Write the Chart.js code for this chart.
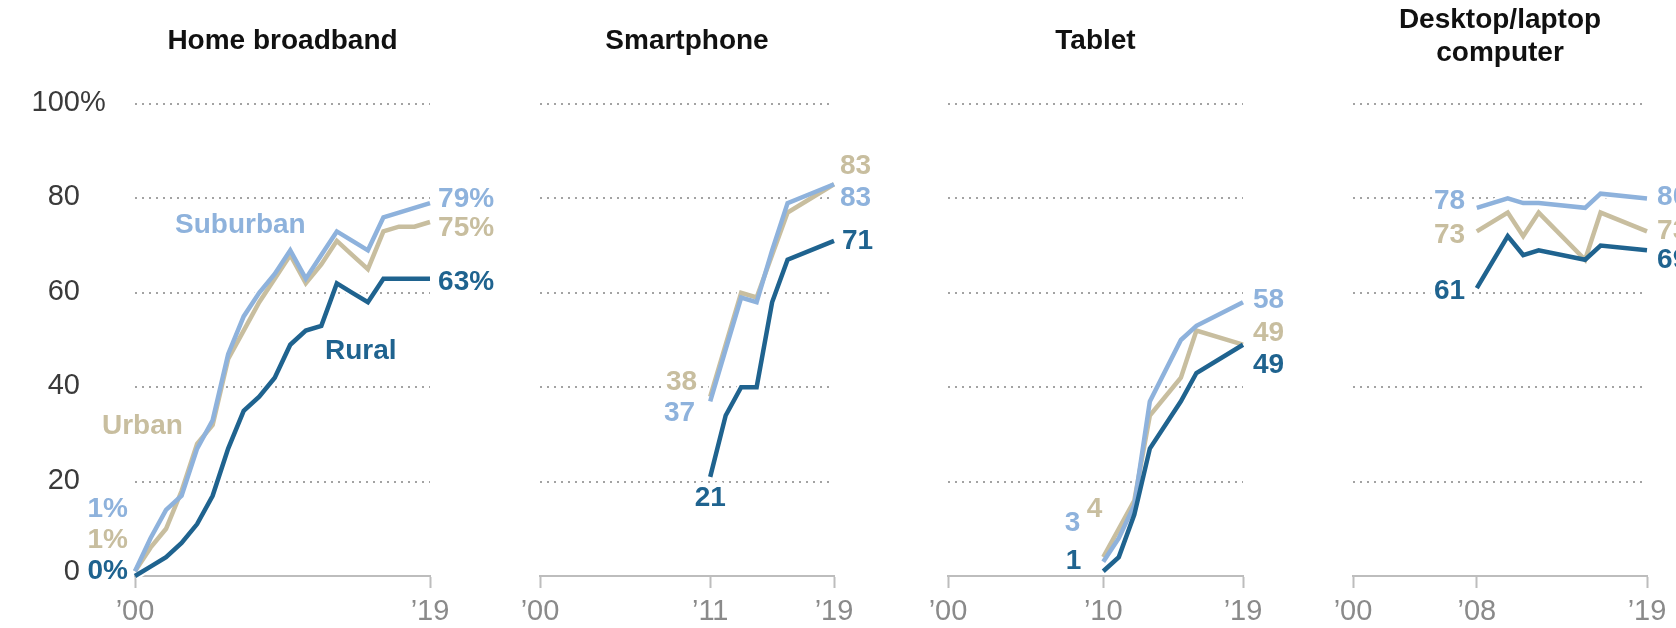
<!DOCTYPE html>
<html>
<head>
<meta charset="utf-8">
<script src="https://cdn.jsdelivr.net/npm/chart.js@4.4.1/dist/chart.umd.min.js"></script>
<style>
  html, body { margin: 0; padding: 0; background: #fff; }
  body { width: 1676px; height: 628px; overflow: hidden; position: relative; }
  canvas { position: absolute; top: 0; }
</style>
</head>
<body>
<canvas id="c-broadband" width="560" height="628"></canvas>
<canvas id="c-phone" width="560" height="628"></canvas>
<canvas id="c-tablet" width="560" height="628"></canvas>
<canvas id="c-desktop" width="560" height="628"></canvas>
<script>
// Home broadband
const broadbandYears = [2000, 2001, 2002, 2003, 2004, 2005, 2006, 2007, 2008, 2009, 2010, 2011, 2012, 2013, 2014, 2015, 2016, 2017, 2018, 2019];
const broadbandSuburban = [1, 8, 14, 17, 27, 33, 47, 55, 60, 64, 69, 63, 68, 73, 71, 69, 76, 77, 78, 79];
const broadbandUrban = [1, 6, 10, 18, 28, 32, 46, 52, 58, 63, 68, 62, 66, 71, 68, 65, 73, 74, 74, 75];
const broadbandRural = [0, 2, 4, 7, 11, 17, 27, 35, 38, 42, 49, 52, 53, 62, 60, 58, 63, 63, 63, 63];

// Smartphone
const phoneYears = [2011, 2012, 2013, 2014, 2015, 2016, 2019];
const phoneSuburban = [37, 48, 59, 58, 69, 79, 83];
const phoneUrban = [38, 49, 60, 59, 68, 77, 83];
const phoneRural = [21, 34, 40, 40, 58, 67, 71];

// Tablet
const tabletYears = [2010, 2011, 2012, 2013, 2015, 2016, 2019];
const tabletSuburban = [3, 8, 15, 37, 50, 53, 58];
const tabletUrban = [4, 10, 16, 34, 42, 52, 49];
const tabletRural = [1, 4, 13, 27, 37, 43, 49];

// Desktop/laptop computer
const desktopYears = [2008, 2010, 2011, 2012, 2015, 2016, 2019];
const desktopSuburban = [78, 80, 79, 79, 78, 81, 80];
const desktopUrban = [73, 77, 72, 77, 67, 77, 73];
const desktopRural = [61, 72, 68, 69, 67, 70, 69];

const broadbandTicks = [2000, 2019];
const phoneTicks = [2000, 2011, 2019];
const tabletTicks = [2000, 2010, 2019];
const desktopTicks = [2000, 2008, 2019];
const yTicks = [0, 20, 40, 60, 80, 100];

const COLORS = { suburban: '#8eb2dc', urban: '#c8be9f', rural: '#1f638f' };
const FAMILY = "'Liberation Sans', Arial, sans-serif";
const BOLD = "bold 28px " + FAMILY;

Chart.defaults.font.family = FAMILY;

const panels = [
    {
        id: 'c-broadband', plotLeft: 135, plotRight: 430, title: ['Home broadband'], yLabels: true,
        years: broadbandYears, suburban: broadbandSuburban, urban: broadbandUrban, rural: broadbandRural,
        ticks: broadbandTicks,
        labels: [
            { text: '79%', color: COLORS.suburban, x: 2019.52, y: 79.9, align: 'left' },
            { text: '75%', color: COLORS.urban, x: 2019.52, y: 73.7, align: 'left' },
            { text: '63%', color: COLORS.rural, x: 2019.52, y: 62.3, align: 'left' },
            { text: '1%', color: COLORS.suburban, x: 1999.55, y: 14.2, align: 'right' },
            { text: '1%', color: COLORS.urban, x: 1999.55, y: 7.6, align: 'right' },
            { text: '0%', color: COLORS.rural, x: 1999.55, y: 1.1, align: 'right' },
            { text: 'Suburban', color: COLORS.suburban, x: 2002.58, y: 74.4, align: 'left' },
            { text: 'Urban', color: COLORS.urban, x: 1997.87, y: 31.8, align: 'left' },
            { text: 'Rural', color: COLORS.rural, x: 2012.24, y: 47.7, align: 'left' }
        ]
    },
    {
        id: 'c-phone', plotLeft: 540, plotRight: 834, title: ['Smartphone'],
        years: phoneYears, suburban: phoneSuburban, urban: phoneUrban, rural: phoneRural,
        ticks: phoneTicks,
        labels: [
            { text: '83', color: COLORS.urban, x: 2019.39, y: 86.7, align: 'left' },
            { text: '83', color: COLORS.suburban, x: 2019.39, y: 80.1, align: 'left' },
            { text: '71', color: COLORS.rural, x: 2019.52, y: 71.0, align: 'left' },
            { text: '38', color: COLORS.urban, x: 2010.15, y: 41.1, align: 'right' },
            { text: '37', color: COLORS.suburban, x: 2010.02, y: 34.5, align: 'right' },
            { text: '21', color: COLORS.rural, x: 2011.0, y: 16.5, align: 'center' }
        ]
    },
    {
        id: 'c-tablet', plotLeft: 948, plotRight: 1243, title: ['Tablet'],
        years: tabletYears, suburban: tabletSuburban, urban: tabletUrban, rural: tabletRural,
        ticks: tabletTicks,
        labels: [
            { text: '58', color: COLORS.suburban, x: 2019.64, y: 58.5, align: 'left' },
            { text: '49', color: COLORS.urban, x: 2019.64, y: 51.5, align: 'left' },
            { text: '49', color: COLORS.rural, x: 2019.64, y: 44.7, align: 'left' },
            { text: '3', color: COLORS.suburban, x: 2008.02, y: 11.2, align: 'center' },
            { text: '4', color: COLORS.urban, x: 2009.44, y: 14.2, align: 'center' },
            { text: '1', color: COLORS.rural, x: 2008.09, y: 3.2, align: 'center' }
        ]
    },
    {
        id: 'c-desktop', plotLeft: 1353, plotRight: 1647, title: ['Desktop/laptop', 'computer'],
        years: desktopYears, suburban: desktopSuburban, urban: desktopUrban, rural: desktopRural,
        ticks: desktopTicks,
        labels: [
            { text: '78', color: COLORS.suburban, x: 2007.24, y: 79.4, align: 'right' },
            { text: '73', color: COLORS.urban, x: 2007.24, y: 72.2, align: 'right' },
            { text: '61', color: COLORS.rural, x: 2007.24, y: 60.4, align: 'right' },
            { text: '80', color: COLORS.suburban, x: 2019.65, y: 80.3, align: 'left' },
            { text: '73', color: COLORS.urban, x: 2019.65, y: 73.1, align: 'left' },
            { text: '69', color: COLORS.rural, x: 2019.65, y: 66.9, align: 'left' }
        ]
    }
];

function drawLabel(chart, l, halo) {
    const ctx = chart.ctx;
    const px = chart.scales.x.getPixelForValue(l.x);
    const py = chart.scales.y.getPixelForValue(l.y);
    ctx.save();
    ctx.font = BOLD;
    ctx.textAlign = l.align;
    ctx.textBaseline = 'middle';
    if (halo) {
        ctx.strokeStyle = '#fff';
        ctx.lineWidth = 10;
        ctx.lineJoin = 'round';
        ctx.strokeText(l.text, px, py);
    } else {
        ctx.fillStyle = l.color;
        ctx.fillText(l.text, px, py);
    }
    ctx.restore();
}

function makeDecor(panel) {
    return {
        id: 'decor',
        beforeDatasetsDraw(chart) {
            const ctx = chart.ctx;
            const area = chart.chartArea;
            ctx.save();
            // panel title
            ctx.font = BOLD;
            ctx.fillStyle = '#111';
            ctx.textAlign = 'center';
            ctx.textBaseline = 'middle';
            const cx = (area.left + area.right) / 2;
            const rows = panel.title.length === 1 ? [41] : [20, 53];
            panel.title.forEach((t, i) => ctx.fillText(t, cx, rows[i]));

            // y axis labels, with hanging percent sign on the top one
            if (panel.yLabels) {
                ctx.font = '29px ' + FAMILY;
                ctx.fillStyle = '#3a3a3a';
                const rx = area.left - 55;
                yTicks.forEach(v => {
                    const y = chart.scales.y.getPixelForValue(v) - (v === 0 ? 4 : 1);
                    ctx.textAlign = 'right';
                    ctx.fillText(String(v), rx, y);
                    if (v === 100) {
                        ctx.textAlign = 'left';
                        ctx.fillText('%', rx, y);
                    }
                });
            }
            ctx.restore();
            panel.labels.forEach(l => drawLabel(chart, l, true));
        },
        afterDatasetsDraw(chart) {
            panel.labels.forEach(l => drawLabel(chart, l, false));
        }
    };
}

function series(years, values) {
    return years.map((yr, i) => ({ x: yr, y: values[i] }));
}

panels.forEach(panel => {
    const canvas = document.getElementById(panel.id);
    const left = panel.plotLeft - 135;
    canvas.style.left = left + 'px';
    const plotWidth = panel.plotRight - panel.plotLeft;

    const line = (values, color, width, order) => ({
        data: series(panel.years, values),
        borderColor: color,
        borderWidth: width,
        pointRadius: 0,
        tension: 0,
        clip: false,
        order: order
    });

    new Chart(canvas, {
        type: 'line',
        data: {
            datasets: [
                line(panel.rural, COLORS.rural, 4.5, 0),
                line(panel.suburban, COLORS.suburban, 4.5, 0),
                line(panel.urban, COLORS.urban, 4.5, 0),
                line(panel.rural, '#fff', 8.5, 1),
                line(panel.suburban, '#fff', 8.5, 1),
                line(panel.urban, '#fff', 8.5, 1)
            ]
        },
        options: {
            responsive: false,
            animation: false,
            devicePixelRatio: 1,
            layout: { padding: { left: 135, right: 560 - 135 - plotWidth, top: 104, bottom: 0 } },
            plugins: { legend: { display: false }, tooltip: { enabled: false } },
            scales: {
                x: {
                    type: 'linear',
                    min: 2000,
                    max: 2019,
                    afterBuildTicks: axis => { axis.ticks = panel.ticks.map(v => ({ value: v })); },
                    afterFit: axis => { axis.height = 52; },
                    ticks: {
                        autoSkip: false,
                        maxRotation: 0,
                        padding: 7,
                        color: '#8a8a8a',
                        font: { size: 29 },
                        callback: v => '\u2019' + String(v).slice(2)
                    },
                    grid: {
                        drawOnChartArea: false,
                        drawTicks: true,
                        tickLength: 12,
                        tickWidth: 2,
                        tickColor: '#bdbdbd'
                    },
                    border: { display: true, color: '#bdbdbd', width: 2 }
                },
                y: {
                    min: 0,
                    max: 100,
                    afterBuildTicks: axis => { axis.ticks = yTicks.map(v => ({ value: v })); },
                    afterFit: axis => { axis.width = 0; },
                    ticks: { display: false },
                    grid: {
                        drawTicks: false,
                        lineWidth: 2,
                        color: c => (c.tick && c.tick.value === 0) ? 'rgba(0,0,0,0)' : '#a3a3a3'
                    },
                    border: { display: false, dash: [2, 5] }
                }
            }
        },
        plugins: [makeDecor(panel)]
    });
});
</script>
</body>
</html>
